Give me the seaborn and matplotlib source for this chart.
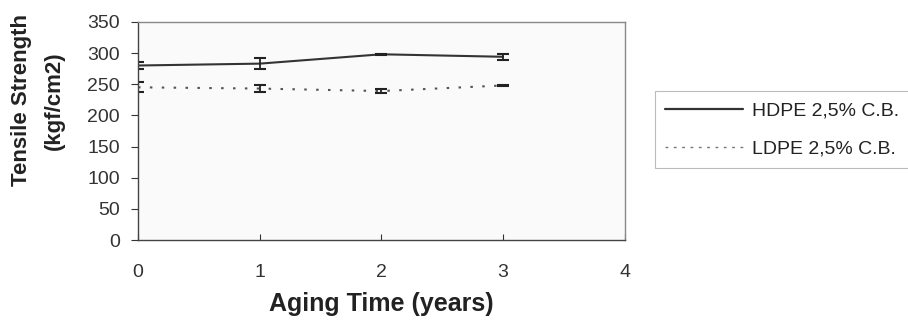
import matplotlib
matplotlib.use("Agg")
import matplotlib.pyplot as plt
from matplotlib.lines import Line2D
import seaborn as sns
import pandas as pd

years = [0, 1, 2, 3]
hdpe = [280, 283, 298, 294]
hdpe_err = [6, 9, 1, 5]
ldpe = [245, 243, 239, 248]
ldpe_err = [8, 5, 3, 1]
series_names = ["HDPE 2,5% C.B.", "LDPE 2,5% C.B."]
x_ticks = [0, 1, 2, 3, 4]
y_ticks = [0, 50, 100, 150, 200, 250, 300, 350]

df = pd.DataFrame({
    "Aging Time (years)": years * 2,
    "Tensile Strength": hdpe + ldpe,
    "err": hdpe_err + ldpe_err,
    "series": [series_names[0]] * 4 + [series_names[1]] * 4,
})

sns.set_style("white")
plt.rcParams["font.family"] = ["Liberation Sans", "DejaVu Sans"]

fig = plt.figure(figsize=(9.08, 3.29), dpi=100)
ax = fig.add_axes([0.152, 0.2705, 0.536, 0.663])

ax.set_facecolor("#fafafa")
sns.lineplot(data=df, x="Aging Time (years)", y="Tensile Strength", hue="series",
             style="series", palette=["#333333", "#555555"],
             dashes={series_names[0]: "", series_names[1]: (1.2, 4.5)},
             linewidth=1.5, ax=ax, legend=False)

for name in series_names:
    sub = df[df["series"] == name]
    ax.errorbar(sub["Aging Time (years)"], sub["Tensile Strength"], yerr=sub["err"],
                fmt="none", ecolor="#222222", elinewidth=1.3, capsize=4, capthick=1.5)

ax.set_xlim(0, 4)
ax.set_ylim(0, 350)
ax.set_xticks(x_ticks)
ax.set_yticks(y_ticks)
ax.tick_params(axis="y", labelsize=14, colors="#333333", length=5, width=0.8,
               direction="out", left=True, pad=8)
ax.tick_params(axis="x", labelsize=14, colors="#333333", length=4, width=0.8,
               direction="in", bottom=True, pad=17)
for sp in ["left", "bottom"]:
    ax.spines[sp].set_color("#444444")
    ax.spines[sp].set_linewidth(1.0)
for sp in ["top", "right"]:
    ax.spines[sp].set_color("#888888")
    ax.spines[sp].set_linewidth(1.0)

ax.set_xlabel("Aging Time (years)", fontsize=18, fontweight="bold", color="#222222")
ax.xaxis.set_label_coords(0.5, -0.24)
ax.xaxis.label.set_va("top")
ax.set_ylabel("Tensile Strength\n(kgf/cm2)", fontsize=16, fontweight="bold", color="#222222",
              linespacing=1.75)
ax.yaxis.set_label_coords(-0.15, 0.64)

handles = [Line2D([], [], color="#333333", lw=1.6),
           Line2D([], [], color="#777777", lw=1.0, dashes=(2, 4))]
leg = fig.legend(handles, series_names, loc="upper left", bbox_to_anchor=(0.721, 0.723),
                 frameon=True, fancybox=False, edgecolor="#aaaaaa", fontsize=14,
                 handlelength=4.0, handletextpad=0.45, borderpad=0.55, labelspacing=1.05,
                 borderaxespad=0)
leg.get_frame().set_linewidth(0.8)
for t in leg.get_texts():
    t.set_color("#222222")

fig.savefig("out.png", dpi=100, facecolor="white")
